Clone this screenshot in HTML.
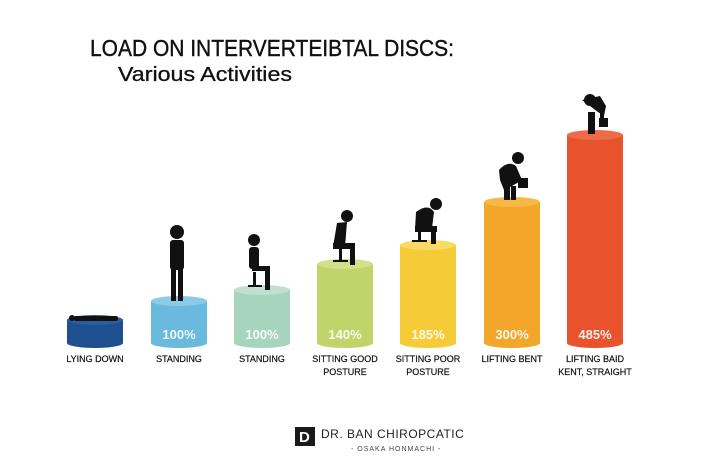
<!DOCTYPE html>
<html><head><style>
body{margin:0;background:#fff;width:702px;height:461px;overflow:hidden;font-family:"Liberation Sans",sans-serif}
</style></head><body>
<svg width="702" height="461" xmlns="http://www.w3.org/2000/svg" font-family="Liberation Sans, sans-serif">
<text x="90" y="56" font-size="23" fill="#111" stroke="#111" stroke-width=".4" textLength="364" lengthAdjust="spacingAndGlyphs">LOAD ON INTERVERTEIBTAL DISCS:</text>
<text x="118" y="81" font-size="20" fill="#111" stroke="#111" stroke-width=".3" textLength="174" lengthAdjust="spacingAndGlyphs">Various Activities</text>
<g>
<rect x="67" y="320" width="56" height="23" fill="#1e4f8e"/><ellipse cx="95" cy="343" rx="28" ry="5" fill="#1e4f8e"/><ellipse cx="95" cy="320" rx="28" ry="5" fill="#2a5e9e"/>
<rect x="151" y="301" width="56" height="42" fill="#6ab9df"/><ellipse cx="179" cy="343" rx="28" ry="5" fill="#6ab9df"/><ellipse cx="179" cy="301" rx="28" ry="5" fill="#8ccbe8"/>
<rect x="234" y="290" width="56" height="53" fill="#a6d4bd"/><ellipse cx="262" cy="343" rx="28" ry="5" fill="#a6d4bd"/><ellipse cx="262" cy="290" rx="28" ry="5" fill="#bfe0ce"/>
<rect x="317" y="264" width="56" height="79" fill="#c1d46a"/><ellipse cx="345" cy="343" rx="28" ry="5" fill="#c1d46a"/><ellipse cx="345" cy="264" rx="28" ry="5" fill="#d2e08a"/>
<rect x="400" y="245" width="56" height="98" fill="#f5cb38"/><ellipse cx="428" cy="343" rx="28" ry="5" fill="#f5cb38"/><ellipse cx="428" cy="245" rx="28" ry="5" fill="#f9da62"/>
<rect x="484" y="202" width="56" height="141" fill="#f2a62a"/><ellipse cx="512" cy="343" rx="28" ry="5" fill="#f2a62a"/><ellipse cx="512" cy="202" rx="28" ry="5" fill="#f6b948"/>
<rect x="567" y="135" width="56" height="208" fill="#e8532d"/><ellipse cx="595" cy="343" rx="28" ry="5" fill="#e8532d"/><ellipse cx="595" cy="135" rx="28" ry="5" fill="#ee6b45"/>
</g>
<g font-size="13" font-weight="bold" fill="#fff" text-anchor="middle" opacity=".9">
<text x="179" y="339">100%</text><text x="262" y="339">100%</text><text x="345" y="339">140%</text><text x="428" y="339">185%</text><text x="512" y="339">300%</text><text x="595" y="339">485%</text>
</g>
<g font-size="9" fill="#111" stroke="#111" stroke-width=".2" text-anchor="middle">
<text x="95" y="362">LYING DOWN</text><text x="179" y="362">STANDING</text><text x="262" y="362">STANDING</text>
<text x="345" y="362">SITTING GOOD</text><text x="345" y="375">POSTURE</text>
<text x="428" y="362">SITTING POOR</text><text x="428" y="375">POSTURE</text>
<text x="512" y="362">LIFTING BENT</text>
<text x="595" y="362">LIFTING BAID</text><text x="595" y="375">KENT, STRAIGHT</text>
</g>
<g fill="#111">
<rect x="74" y="316" width="44" height="5" rx="2"/><circle cx="72" cy="318" r="3"/>
<circle cx="177" cy="232" r="7"/><rect x="170" y="240" width="14" height="30" rx="3"/><rect x="171" y="268" width="5" height="33"/><rect x="178" y="268" width="5" height="33"/>
<circle cx="254" cy="240" r="6"/><rect x="249" y="247" width="10" height="22" rx="3"/><rect x="252" y="266" width="18" height="5"/><rect x="265" y="268" width="5" height="22"/><rect x="253" y="272" width="3" height="14"/><rect x="248" y="285" width="14" height="2"/>
<circle cx="347" cy="216" r="6"/><path d="M337 223 L347 222 L345 247 L333 247 Z"/><rect x="333" y="243" width="22" height="6"/><rect x="350" y="246" width="5" height="19"/><rect x="339" y="249" width="3" height="12"/><rect x="333" y="260" width="15" height="2"/>
<circle cx="436" cy="204" r="6"/><path d="M416 212 Q428 203 434 212 L432 228 L415 230 Z"/><rect x="415" y="226" width="22" height="6"/><rect x="431" y="228" width="5" height="16"/><rect x="418" y="231" width="3" height="10"/><rect x="412" y="240" width="15" height="2"/>
<circle cx="518" cy="158" r="6"/><path d="M499 170 Q508 160 516 166 L522 180 L512 186 L504 190 L500 180 Z"/><rect x="504" y="186" width="6" height="14"/><rect x="511" y="186" width="5" height="14"/><rect x="518" y="178" width="10" height="10"/>
<circle cx="590" cy="100" r="6"/><path d="M582 100 L600 96 L606 106 L604 116 L598 112 Z"/><rect x="588" y="112" width="7" height="22"/><rect x="600" y="110" width="4" height="10"/><rect x="599" y="118" width="9" height="9"/>
</g>
<rect x="295" y="427" width="20" height="19" fill="#1a1a1a"/>
<text x="299" y="442" font-size="15" font-weight="bold" fill="#fff">D</text>
<text x="321" y="438" font-size="12" fill="#222" letter-spacing=".5">DR. BAN CHIROPCATIC</text>
<text x="351" y="451" font-size="7" fill="#444" letter-spacing="1">- OSAKA HONMACHI -</text>
</svg>
</body></html>
